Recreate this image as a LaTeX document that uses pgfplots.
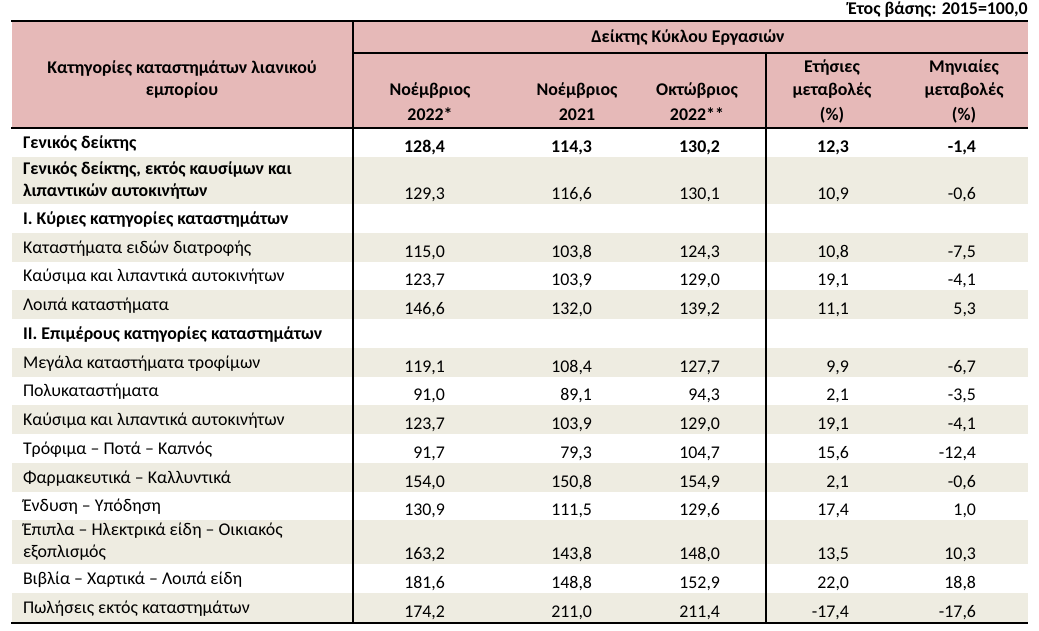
\documentclass[border=0pt]{standalone}
\usepackage{fontspec}
\setmainfont{Carlito}
\usepackage{pgfplots}
\pgfplotsset{compat=1.18}
\usepackage{pgfplotstable}
\definecolor{hdr}{HTML}{E6B9B8}
\definecolor{band}{HTML}{EEECE1}
\newcommand\tf{\fontsize{13.4}{15}\selectfont}

% numeric values: Y = baseline (picture units, 1 unit = 1 px)
\pgfplotstableread[col sep=semicolon, row sep=\\]{
Y;a;b;c;d;e\\
431.5;129,3;116,6;130,1;10,9;-0,6\\
373.5;115,0;103,8;124,3;10,8;-7,5\\
345.5;123,7;103,9;129,0;19,1;-4,1\\
316.5;146,6;132,0;139,2;11,1;5,3\\
258.5;119,1;108,4;127,7;9,9;-6,7\\
230.5;91,0;89,1;94,3;2,1;-3,5\\
201.5;123,7;103,9;129,0;19,1;-4,1\\
172.5;91,7;79,3;104,7;15,6;-12,4\\
143.5;154,0;150,8;154,9;2,1;-0,6\\
115.5;130,9;111,5;129,6;17,4;1,0\\
71.5;163,2;143,8;148,0;13,5;10,3\\
42.5;181,6;148,8;152,9;22,0;18,8\\
13;174,2;211,0;211,4;-17,4;-17,6\\
}\vals
\pgfplotstableread[col sep=semicolon, row sep=\\]{
Y;a;b;c;d;e\\
478.5;128,4;114,3;130,2;12,3;-1,4\\
}\valsbold
\pgfplotstableread[col sep=semicolon, row sep=\\]{
Y;t\\
377.5;Καταστήματα ειδών διατροφής\\
349.5;Καύσιμα και λιπαντικά αυτοκινήτων\\
320.5;Λοιπά καταστήματα\\
262.5;Μεγάλα καταστήματα τροφίμων\\
234.5;Πολυκαταστήματα\\
205.5;Καύσιμα και λιπαντικά αυτοκινήτων\\
176.5;Τρόφιμα – Ποτά – Καπνός\\
147.5;Φαρμακευτικά – Καλλυντικά\\
119.5;Ένδυση – Υπόδηση\\
95;Έπιπλα – Ηλεκτρικά είδη – Οικιακός\\
73.5;εξοπλισμός\\
46.5;Βιβλία – Χαρτικά – Λοιπά είδη\\
17.5;Πωλήσεις εκτός καταστημάτων\\
}\labs
\pgfplotstableread[col sep=semicolon, row sep=\\]{
Y;t\\
482.5;Γενικός δείκτης\\
456;Γενικός δείκτης, εκτός καυσίμων και\\
434.5;λιπαντικών αυτοκινήτων\\
406.5;I. Κύριες κατηγορίες καταστημάτων\\
291.5;II. Επιμέρους κατηγορίες καταστημάτων\\
}\labsbold

\pgfplotsset{
  txt/.style={only marks, mark=none, nodes near coords, point meta=explicit symbolic,
    every node near coord/.append style={inner sep=0pt, outer sep=0pt, yshift=0pt, font=\tf, text=black}},
  numcol/.style={txt, every node near coord/.append style={anchor=base east}},
  labcol/.style={txt, every node near coord/.append style={anchor=base west}},
  boldtxt/.style={every node near coord/.append style={font=\tf\bfseries}},
}

\begin{document}
\begin{tikzpicture}
\begin{axis}[x=0.75pt, y=0.75pt, xmin=0, xmax=1039, ymin=0, ymax=631,
  axis lines=none, clip=false, scale only axis]
\path (axis cs:0,0) rectangle (axis cs:1039,631);
% fills
\addplot[fill=hdr, draw=none] coordinates {(12,610) (1028,610) (1028,503) (12,503)};
\addplot[fill=band, draw=none] coordinates {(12,474) (1028,474) (1028,427) (12,427)};
\addplot[fill=band, draw=none] coordinates {(12,398) (1028,398) (1028,369) (12,369)};
\addplot[fill=band, draw=none] coordinates {(12,341) (1028,341) (1028,312) (12,312)};
\addplot[fill=band, draw=none] coordinates {(12,283) (1028,283) (1028,254) (12,254)};
\addplot[fill=band, draw=none] coordinates {(12,226) (1028,226) (1028,197) (12,197)};
\addplot[fill=band, draw=none] coordinates {(12,168) (1028,168) (1028,139) (12,139)};
\addplot[fill=band, draw=none] coordinates {(12,111) (1028,111) (1028,67) (12,67)};
\addplot[fill=band, draw=none] coordinates {(12,38) (1028,38) (1028,8) (12,8)};
% rules
\addplot[black, line width=1.5pt] coordinates {(11,610) (1028,610)};
\addplot[black, line width=1.5pt] coordinates {(353,578) (1028,578)};
\addplot[black, line width=1.5pt] coordinates {(11,503) (1028,503)};
\addplot[black, line width=1.5pt] coordinates {(11,8) (1028,8)};
\addplot[black, line width=1.5pt] coordinates {(353,610) (353,8)};
\addplot[black, line width=1.5pt] coordinates {(766,578) (766,8)};
% numbers
\addplot[numcol] table[x expr=445, y=Y, meta=a] {\vals};
\addplot[numcol] table[x expr=592, y=Y, meta=b] {\vals};
\addplot[numcol] table[x expr=720, y=Y, meta=c] {\vals};
\addplot[numcol] table[x expr=849, y=Y, meta=d] {\vals};
\addplot[numcol] table[x expr=976, y=Y, meta=e] {\vals};
\addplot[numcol, boldtxt] table[x expr=445, y=Y, meta=a] {\valsbold};
\addplot[numcol, boldtxt] table[x expr=592, y=Y, meta=b] {\valsbold};
\addplot[numcol, boldtxt] table[x expr=720, y=Y, meta=c] {\valsbold};
\addplot[numcol, boldtxt] table[x expr=849, y=Y, meta=d] {\valsbold};
\addplot[numcol, boldtxt] table[x expr=976, y=Y, meta=e] {\valsbold};
% row labels
\addplot[labcol] table[x expr=23, y=Y, meta=t] {\labs};
\addplot[labcol, boldtxt] table[x expr=23, y=Y, meta=t] {\labsbold};
% header text
\begin{scope}[every node/.style={font=\tf\bfseries, inner sep=0pt, anchor=base}]
\node[anchor=base east] at (axis cs:1028,616) {Έτος βάσης: 2015=100,0};
\node at (axis cs:182,557.5) {Κατηγορίες καταστημάτων λιανικού};
\node at (axis cs:182,535) {εμπορίου};
\node at (axis cs:688,588) {Δείκτης Κύκλου Εργασιών};
\node at (axis cs:430,535) {Νοέμβριος};
\node at (axis cs:430,510.5) {2022*};
\node at (axis cs:577,535) {Νοέμβριος};
\node at (axis cs:577,510.5) {2021};
\node at (axis cs:697,535) {Οκτώβριος};
\node at (axis cs:697,510.5) {2022**};
\node at (axis cs:832,558.5) {Ετήσιες};
\node at (axis cs:832,535) {μεταβολές};
\node at (axis cs:832,510.5) {(\%)};
\node at (axis cs:964,558.5) {Μηνιαίες};
\node at (axis cs:964,535) {μεταβολές};
\node at (axis cs:964,510.5) {(\%)};
\end{scope}
\end{axis}
\end{tikzpicture}
\end{document}
